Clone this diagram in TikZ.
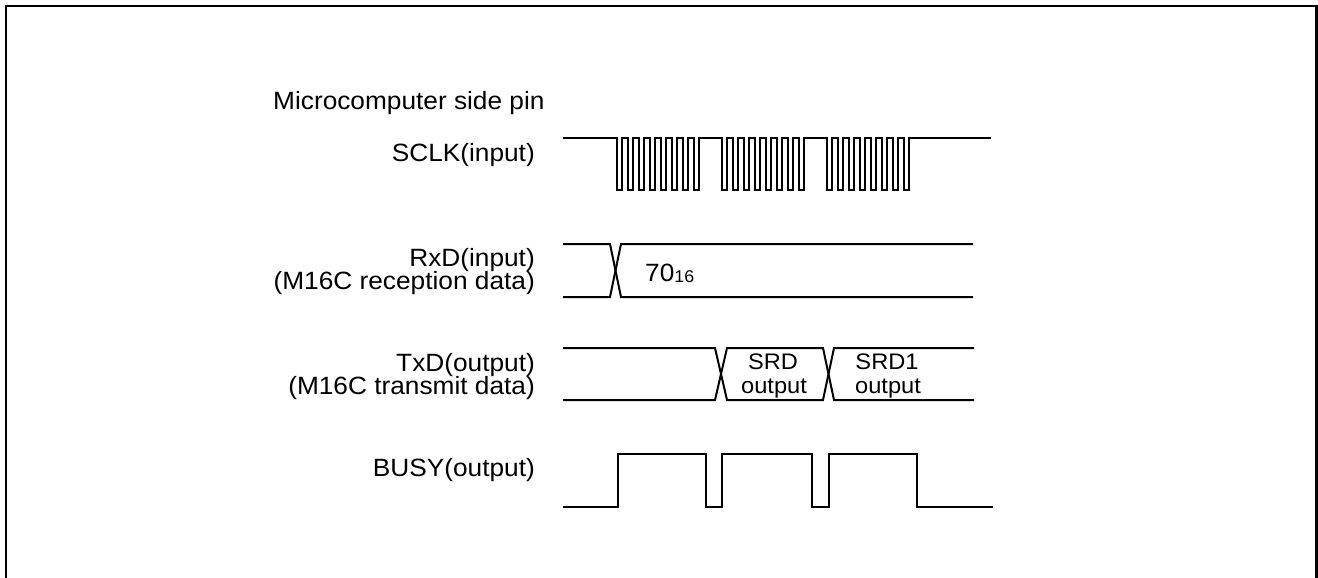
\documentclass[tikz,border=0pt]{standalone}
\usepackage{fontspec}
\setmainfont{Liberation Sans}[FakeStretch=1.05]
\newcommand{\lblfont}{\fontsize{25}{23}\selectfont}
\newcommand{\boxfont}{\fontsize{22.5}{22}\selectfont}
\tikzset{
  sig/.style={line width=2pt, line join=miter, line cap=rect},
  lbl/.style={inner sep=0pt, anchor=base east, font=\lblfont},
  cell/.style={inner sep=0pt, anchor=base, font=\boxfont},
  frame/.style={line width=2.2pt, black},
}
\begin{document}
\begin{tikzpicture}[x=1pt, y=-1pt]
  \useasboundingbox (0,0) rectangle (1318,578);

  % outer frame (open at the bottom)
  \draw[frame] (6,578) -- (6,6) -- (1316.5,6) -- (1316.5,578);

  % pin labels
  \node[lbl, anchor=base west] (title) at (273,110) {Microcomputer side pin};
  \node[lbl] (sclk)  at (535,161) {SCLK(input)};
  \node[lbl] (rxd1)  at (535,266) {RxD(input)};
  \node[lbl] (rxd2)  at (535,289) {(M16C reception data)};
  \node[lbl] (txd1)  at (535,371) {TxD(output)};
  \node[lbl] (txd2)  at (535,394) {(M16C transmit data)};
  \node[lbl] (busy)  at (535,476) {BUSY(output)};

  % SCLK: three bursts of eight clock pulses
  \def\hp{5.467}
  \draw[sig] (564,138)
    \foreach \s in {617,722,827}{
      \foreach \k in {0,...,7}{
        -- ({\s+2*\k*\hp},138) -- ({\s+2*\k*\hp},190)
        -- ({\s+(2*\k+1)*\hp},190) -- ({\s+(2*\k+1)*\hp},138)
      }
    } -- (990,138);

  % RxD: data transition, then 70h
  \draw[sig] (564,244) -- (610,244) -- (621,297) -- (972,297);
  \draw[sig] (564,297) -- (610,297) -- (621,244) -- (972,244);
  \node[inner sep=0pt, anchor=base west, font=\lblfont] (rxdval) at (645,281)
    {70\raisebox{-1pt}{\fontsize{17}{17}\selectfont 16}};

  % TxD: SRD and SRD1 output
  \draw[sig] (564,348) -- (715,348) -- (727,400) -- (823,400) -- (834,348) -- (973,348);
  \draw[sig] (564,400) -- (715,400) -- (727,348) -- (823,348) -- (834,400) -- (973,400);
  \node[cell] (srdA)  at (773,369) {SRD};
  \node[cell] (srdB)  at (774,393) {output};
  \node[cell] (srd1A) at (887,369) {SRD1};
  \node[cell] (srd1B) at (888,393) {output};

  % BUSY
  \draw[sig] (564,507) -- (618,507) -- (618,454) -- (706,454) -- (706,507)
    -- (722,507) -- (722,454) -- (812,454) -- (812,507)
    -- (829,507) -- (829,454) -- (917,454) -- (917,507) -- (992,507);
\end{tikzpicture}
\end{document}
